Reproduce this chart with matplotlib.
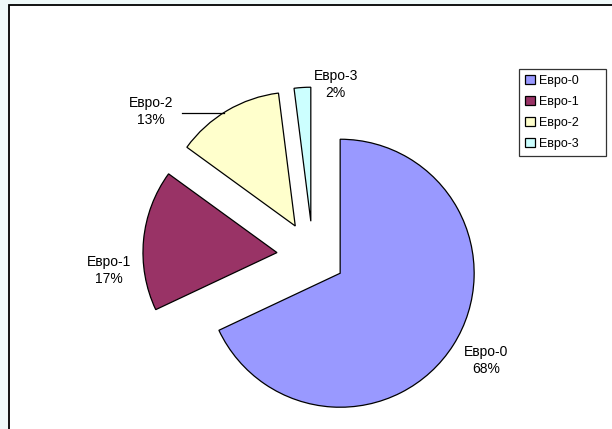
import numpy as np
import matplotlib
matplotlib.use('Agg')
import matplotlib.pyplot as plt
from matplotlib.patches import Rectangle

plt.rcParams['font.family'] = ['Liberation Sans', 'DejaVu Sans']

# данные
categories = ['Евро-0', 'Евро-1', 'Евро-2', 'Евро-3']
shares = [68, 17, 13, 2]
colors = ['#9999FF', '#993366', '#FFFFCC', '#CCFFFF']
explode = [0.24, 0.27, 0.26, 0.26]

# подписи (в координатах осей, единица = радиус круга)
label_xy = [(1.29, -0.78), (-1.52, -0.11), (-1.21, 1.08), (0.17, 1.28)]

fig = plt.figure(figsize=(6.12, 4.29), dpi=100, facecolor='#F0FAFA')
# белая область диаграммы с рамкой
fig.patches.append(Rectangle((9 / 612, -0.05), 1.0, 1 - 4.5 / 429 + 0.05,
                             transform=fig.transFigure, facecolor='white',
                             edgecolor='black', linewidth=1.3, zorder=-5))

ax = fig.add_axes([0, 0, 1, 1])
ax.patch.set_alpha(0)
ax.set_zorder(1)
wedges, _ = ax.pie(shares, colors=colors, explode=explode, startangle=90,
                   counterclock=False,
                   wedgeprops=dict(edgecolor='black', linewidth=0.9))

# масштаб: центр круга (313, 256) px, радиус 134 px
cx, cy, r = 313, 256, 134
ax.set_aspect('auto')
ax.set_xlim(-cx / r, (612 - cx) / r)
ax.set_ylim(-(429 - cy) / r, cy / r)
ax.axis('off')

for i, w in enumerate(wedges):
    x, y = label_xy[i]
    ax.text(x, y, f'{categories[i]}\n{shares[i]}%', ha='center', va='center',
            fontsize=10, linespacing=1.3)

# выноска для Евро-2 (горизонтальная, до дуги сектора)
w = wedges[2]
lx, ly = label_xy[2]
line_y = ly - 0.01
ang = np.pi - np.arcsin((line_y - w.center[1]) / w.r)
px = w.center[0] + w.r * np.cos(ang)
ax.plot([lx + 0.23, px], [line_y, line_y], color='black', linewidth=0.9)

leg = fig.legend(wedges, categories, loc='upper left',
                 bbox_to_anchor=(519 / 612, 0, 87 / 612, 1 - 69 / 429),
                 mode='expand', borderaxespad=0,
                 fontsize=9, frameon=True, fancybox=False, edgecolor='black',
                 handlelength=0.75, handleheight=0.75, handletextpad=0.35,
                 labelspacing=0.7, borderpad=0.5)
leg.get_frame().set_linewidth(0.9)
leg.set_zorder(2)

plt.savefig('out.png', dpi=100, facecolor=fig.get_facecolor())
